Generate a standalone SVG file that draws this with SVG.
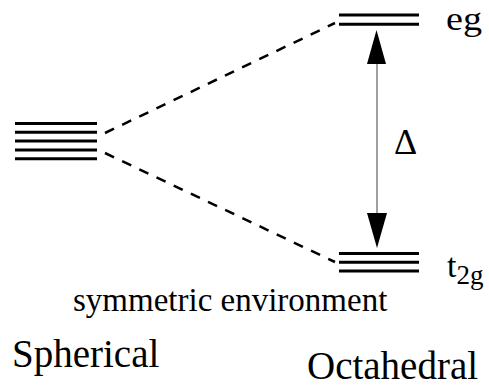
<svg xmlns="http://www.w3.org/2000/svg" width="489" height="392" viewBox="0 0 489 392">
<style>
.lvl{stroke:#000;stroke-width:3;fill:none}
.dash{stroke:#000;stroke-width:2.5;stroke-dasharray:10 9;fill:none}
.t{font-family:"Liberation Serif","Times New Roman",serif;fill:#000}
</style>
<rect width="489" height="392" fill="#fff"/>
<g id="connectors">
<line class="dash" x1="105" y1="133" x2="335" y2="23"/>
<line class="dash" x1="105" y1="153" x2="335" y2="262"/>
<line x1="377" y1="60" x2="377" y2="216" stroke="#808080" stroke-width="1.5"/>
<polygon points="376.5,30 367,64 386,64" fill="#000"/>
<polygon points="377,248 367,213 387,213" fill="#000"/>
</g>
<g id="spherical">
<line class="lvl" x1="15" y1="123.5" x2="97" y2="123.5"/>
<line class="lvl" x1="15" y1="132.3" x2="97" y2="132.3"/>
<line class="lvl" x1="15" y1="141" x2="97" y2="141"/>
<line class="lvl" x1="15" y1="150" x2="97" y2="150"/>
<line class="lvl" x1="15" y1="158.7" x2="97" y2="158.7"/>
</g>
<g id="eg">
<line class="lvl" x1="339" y1="15" x2="419" y2="15"/>
<line class="lvl" x1="339" y1="24.3" x2="419" y2="24.3"/>
<text class="t" x="446" y="30" font-size="33" textLength="36" lengthAdjust="spacingAndGlyphs">eg</text>
</g>
<g id="t2g">
<line class="lvl" x1="339" y1="253.5" x2="419" y2="253.5"/>
<line class="lvl" x1="339" y1="262.3" x2="419" y2="262.3"/>
<line class="lvl" x1="339" y1="271" x2="419" y2="271"/>
<text class="t" x="447" y="277" font-size="34">t<tspan font-size="27" dy="7">2g</tspan></text>
</g>
<g id="delta">
<text class="t" x="394" y="154" font-size="36">Δ</text>
</g>
<g id="labels">
<text class="t" x="73" y="311" font-size="33">symmetric environment</text>
<text class="t" x="12" y="367" font-size="39">Spherical</text>
<text class="t" x="307" y="379" font-size="39">Octahedral</text>
</g>
</svg>
